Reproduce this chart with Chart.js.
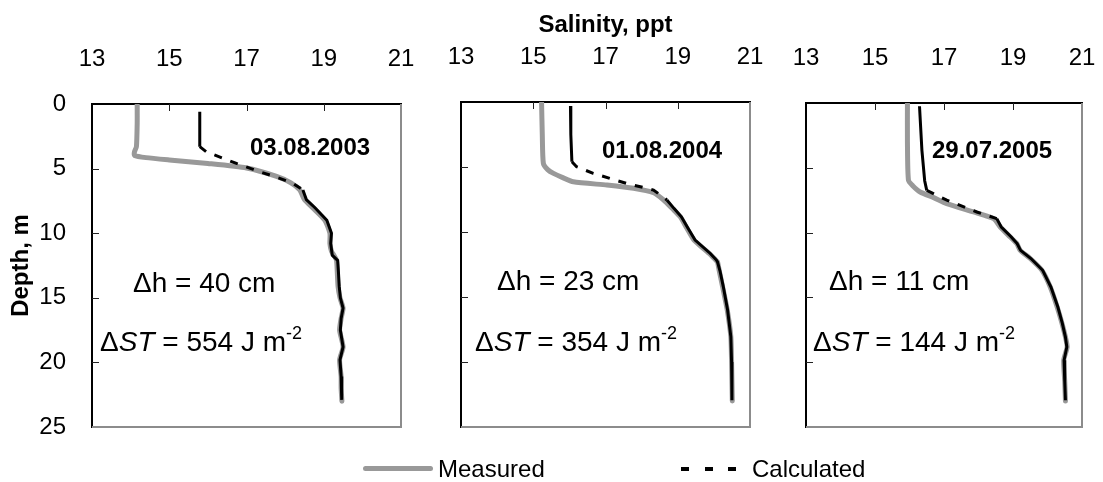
<!DOCTYPE html>
<html lang="en">
<head>
<meta charset="UTF-8">
<title>Salinity profiles</title>
<script src="https://cdn.jsdelivr.net/npm/chart.js"></script>
<style>
  body { margin: 0; background: #fff; font-family: "Liberation Sans", Arial, sans-serif; color: #000; }
  .wrap { position: relative; width: 1103px; height: 482px; overflow: hidden; }
  .wrap canvas { position: absolute; top: 0; }
  .note { position: absolute; white-space: nowrap; font-size: 28px; line-height: 30px; }
  .note sup { font-size: 18px; line-height: 0; vertical-align: 12px; }
  .date { position: absolute; white-space: nowrap; font-size: 24px; line-height: 28px; font-weight: bold; }
  .legend-line { position: absolute; }
  .legend-line.measured { left: 363px; top: 466px; width: 70px; height: 5px; border-radius: 3px; background: #999; }
  .legend-line.calc { left: 681px; top: 467px; width: 56px; height: 4px;
    background: repeating-linear-gradient(to right, #000 0 8px, transparent 8px 23.5px); }
  .legend-text { position: absolute; top: 455px; font-size: 24px; line-height: 28px; }
</style>
</head>
<body>
<div class="wrap" id="wrap">
  <canvas id="c2003"></canvas>
  <canvas id="c2004"></canvas>
  <canvas id="c2005"></canvas>

  <div class="legend-line measured"></div>
  <div class="legend-text" style="left: 438px;">Measured</div>
  <div class="legend-line calc"></div>
  <div class="legend-text" style="left: 752px;">Calculated</div>
</div>

<script>
// axis ticks
const salinityTicks = [13, 15, 17, 19, 21];
const depthTicks = [0, 5, 10, 15, 20, 25];

// survey labels and computed values
const surveyDates = ['03.08.2003', '01.08.2004', '29.07.2005'];
const deltaH = [40, 23, 11];      // cm
const deltaST = [554, 354, 144];  // J m-2

// 2003 profiles (depth m, salinity ppt)
const meas2003Depth = [0, 1.5, 3.3, 3.7, 3.98, 4.15, 4.33, 4.6, 4.95, 5.6, 6.1, 6.65, 7.4, 8.05, 9.0, 10.0, 10.8, 11.4, 11.7, 12.1, 13.0, 14.1, 15.0, 15.8, 16.6, 17.5, 18.8, 19.8, 21.1, 22.0, 23.0];
const meas2003Sal   = [14.17, 14.17, 14.15, 14.1, 14.1, 14.4, 15.0, 16.0, 17.0, 17.78, 18.15, 18.38, 18.5, 18.72, 19.03, 19.16, 19.16, 19.2, 19.26, 19.33, 19.35, 19.37, 19.42, 19.5, 19.45, 19.41, 19.5, 19.41, 19.45, 19.45, 19.47];
const calc2003Depth = [0.6, 3.3, 3.7, 4.6, 5.24, 5.75, 6.14, 6.65, 7.4, 8.05, 9.0, 10.0, 10.8, 11.7, 12.1, 13.0, 14.1, 15.0, 15.8, 16.6, 17.5, 18.8, 19.8, 21.1, 22.0, 22.9];
const calc2003Sal   = [15.79, 15.79, 15.96, 16.74, 17.34, 17.86, 18.2, 18.46, 18.55, 18.78, 19.08, 19.2, 19.18, 19.22, 19.36, 19.38, 19.4, 19.43, 19.5, 19.45, 19.43, 19.5, 19.42, 19.45, 19.46, 19.47];

// 2004 profiles
const meas2004Depth = [0, 2.5, 4.72, 5.2, 5.49, 5.8, 6.14, 6.39, 6.64, 6.98, 7.54, 8.2, 8.83, 9.7, 10.62, 11.65, 12.16, 12.3, 13.0, 14.2, 16.0, 18.07, 20.0, 23.0];
const meas2004Sal   = [15.23, 15.25, 15.28, 15.4, 15.56, 15.8, 16.11, 17.04, 17.78, 18.33, 18.61, 18.85, 19.07, 19.25, 19.45, 19.87, 20.05, 20.1, 20.15, 20.24, 20.37, 20.47, 20.49, 20.51];
const calc2004Depth = [0.31, 2.5, 4.6, 4.98, 5.49, 6.26, 6.77, 7.54, 8.2, 8.83, 9.7, 10.62, 11.65, 12.16, 12.3, 13.0, 14.2, 16.0, 18.07, 20.0, 22.94];
const calc2004Sal   = [16.03, 16.04, 16.07, 16.2, 16.66, 17.58, 18.33, 18.7, 18.9, 19.1, 19.28, 19.48, 19.9, 20.07, 20.1, 20.17, 20.26, 20.38, 20.47, 20.49, 20.5];

// 2005 profiles
const meas2005Depth = [0, 3.0, 5.96, 6.4, 6.87, 7.3, 7.76, 8.41, 8.92, 9.57, 10.34, 10.85, 11.37, 12.0, 12.91, 14.2, 15.74, 17.0, 18.06, 18.83, 19.85, 21.5, 23.0];
const meas2005Sal   = [15.94, 15.94, 15.97, 16.1, 16.31, 16.7, 17.08, 17.86, 18.44, 18.63, 18.92, 19.11, 19.21, 19.5, 19.84, 20.08, 20.28, 20.42, 20.52, 20.57, 20.47, 20.5, 20.52];
const calc2005Depth = [0.25, 3.65, 6.0, 6.74, 7.5, 8.41, 8.92, 9.57, 10.34, 10.85, 11.37, 12.0, 12.91, 14.2, 15.74, 17.0, 18.06, 18.83, 19.85, 21.5, 22.94];
const calc2005Sal   = [16.29, 16.36, 16.44, 16.5, 17.08, 17.95, 18.53, 18.66, 18.95, 19.12, 19.22, 19.52, 19.86, 20.1, 20.3, 20.43, 20.52, 20.56, 20.48, 20.5, 20.52];

const FONT = '"Liberation Sans", Arial, sans-serif';
const MARGIN = 42;   // room around each plot so edge tick labels never squeeze it

// plot area [left, top, right, bottom] in page px, dashed depth span of the model line
const panels = [
  { id: 'c2003', area: [92, 104, 401, 427],  dash: [3.3, 6.65],
    md: meas2003Depth, ms: meas2003Sal, cd: calc2003Depth, cs: calc2003Sal,
    date: [250, 147], dh: [133, 283], dst: [100, 342] },
  { id: 'c2004', area: [461, 102, 750, 427], dash: [4.6, 7.54],
    md: meas2004Depth, ms: meas2004Sal, cd: calc2004Depth, cs: calc2004Sal,
    date: [602, 150], dh: [497, 281], dst: [475, 342] },
  { id: 'c2005', area: [806, 103, 1082, 427], dash: [6.74, 8.92],
    md: meas2005Depth, ms: meas2005Sal, cd: calc2005Depth, cs: calc2005Sal,
    date: [932, 150], dh: [829, 281], dst: [813, 342] }
];

const toPoints = (depth, sal) => depth.map((d, i) => ({ x: sal[i], y: d }));

// gray right/bottom frame plus short inward tick marks
const frame = {
  id: 'frame',
  beforeDatasetsDraw(chart) {
    const { ctx, chartArea: a, scales } = chart;
    ctx.save();
    ctx.strokeStyle = '#8c8c8c';
    ctx.lineWidth = 2;
    ctx.beginPath();
    ctx.moveTo(a.right, a.top);
    ctx.lineTo(a.right, a.bottom);
    ctx.lineTo(a.left, a.bottom);
    ctx.stroke();

    ctx.strokeStyle = '#222';
    ctx.lineWidth = 1;
    ctx.beginPath();
    salinityTicks.slice(1, -1).forEach(v => {
      const px = Math.round(scales.x.getPixelForValue(v)) + 0.5;
      ctx.moveTo(px, a.top);
      ctx.lineTo(px, a.top + 7);
    });
    depthTicks.slice(1, -1).forEach(v => {
      const py = Math.round(scales.y.getPixelForValue(v)) + 0.5;
      ctx.moveTo(a.left, py);
      ctx.lineTo(a.left + 7, py);
    });
    ctx.stroke();
    ctx.restore();
  }
};

const wrap = document.getElementById('wrap');

panels.forEach((p, i) => {
  const [aL, aT, aR, aB] = p.area;
  const left = i === 0 ? 0 : aL - MARGIN;
  const width = aR + MARGIN - left;
  const height = aB + MARGIN;

  const el = document.getElementById(p.id);
  el.width = width;
  el.height = height;
  el.style.left = left + 'px';
  el.style.width = width + 'px';
  el.style.height = height + 'px';

  new Chart(el, {
    type: 'scatter',
    data: {
      datasets: [
        {
          label: 'Calculated',
          data: toPoints(p.cd, p.cs),
          showLine: true,
          borderColor: '#000',
          borderWidth: 3,
          pointRadius: 0,
          order: 0,
          segment: {
            borderDash: ctx => (ctx.p0.parsed.y >= p.dash[0] && ctx.p1.parsed.y <= p.dash[1]) ? [8, 9] : undefined
          }
        },
        {
          label: 'Measured',
          data: toPoints(p.md, p.ms),
          showLine: true,
          borderColor: '#999',
          borderWidth: 5,
          borderCapStyle: 'round',
          borderJoinStyle: 'round',
          tension: 0.2,
          pointRadius: 0,
          order: 1
        }
      ]
    },
    options: {
      responsive: false,
      animation: false,
      devicePixelRatio: 1,
      layout: { padding: { left: 0, top: 0, right: MARGIN, bottom: MARGIN } },
      plugins: { legend: { display: false }, tooltip: { enabled: false } },
      scales: {
        x: {
          type: 'linear',
          position: 'top',
          min: 13,
          max: 21,
          afterBuildTicks: s => { s.ticks = salinityTicks.map(v => ({ value: v })); },
          afterFit: s => { s.height = aT; },
          grid: { display: false },
          border: { display: true, color: '#000', width: 2 },
          ticks: { color: '#000', font: { family: FONT, size: 24 }, padding: 22, maxRotation: 0, autoSkip: false },
          title: {
            display: i === 1,
            text: 'Salinity, ppt',
            color: '#000',
            font: { family: FONT, size: 24, weight: 'bold' },
            padding: { top: 11, bottom: 0 }
          }
        },
        y: {
          type: 'linear',
          reverse: true,
          min: 0,
          max: 25,
          afterBuildTicks: s => { s.ticks = depthTicks.map(v => ({ value: v })); },
          afterFit: s => { s.width = aL - left; },
          grid: { display: false },
          border: { display: true, color: '#000', width: 2 },
          ticks: { display: i === 0, color: '#000', font: { family: FONT, size: 24 }, padding: 18 },
          title: {
            display: i === 0,
            text: 'Depth, m',
            color: '#000',
            font: { family: FONT, size: 24, weight: 'bold' },
            padding: { top: 7, bottom: 0 }
          }
        }
      }
    },
    plugins: [frame]
  });

  // date and heat-content labels inside each panel
  const date = document.createElement('div');
  date.className = 'date';
  date.textContent = surveyDates[i];
  date.style.left = p.date[0] + 'px';
  date.style.top = (p.date[1] - 14) + 'px';
  wrap.appendChild(date);

  const dh = document.createElement('div');
  dh.className = 'note';
  dh.textContent = '\u0394h = ' + deltaH[i] + ' cm';
  dh.style.left = p.dh[0] + 'px';
  dh.style.top = (p.dh[1] - 15) + 'px';
  wrap.appendChild(dh);

  const dst = document.createElement('div');
  dst.className = 'note';
  dst.innerHTML = '\u0394<i>ST</i> = ' + deltaST[i] + ' J m<sup>-2</sup>';
  dst.style.left = p.dst[0] + 'px';
  dst.style.top = (p.dst[1] - 15) + 'px';
  wrap.appendChild(dst);
});
</script>
</body>
</html>
